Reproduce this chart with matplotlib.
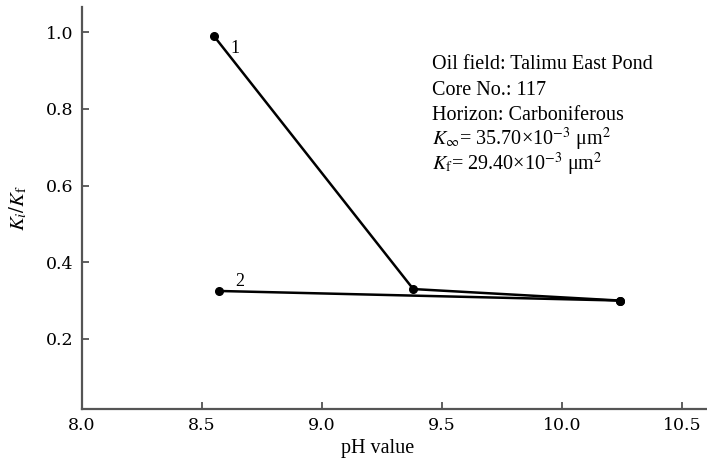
import matplotlib
matplotlib.use("Agg")
import matplotlib.pyplot as plt

# pH sensitivity data for two test runs
ph_run1 = [8.55, 9.38, 10.24]
ratio_run1 = [0.99, 0.33, 0.30]
ph_run2 = [8.57, 10.24]
ratio_run2 = [0.325, 0.30]

x_ticks = [8.0, 8.5, 9.0, 9.5, 10.0, 10.5]
y_ticks = [0.2, 0.4, 0.6, 0.8, 1.0]

info_lines = [
    "Oil field: Talimu East Pond",
    "Core No.: 117",
    "Horizon: Carboniferous",
    r"$K_\infty$= 35.70×10$^{-3}$ μm$^2$",
    r"$K_\mathrm{f}$= 29.40×10$^{-3}$ μm$^2$",
]

plt.rcParams["mathtext.fontset"] = "stix"

W, H = 707, 461
fig = plt.figure(figsize=(W / 100, H / 100), dpi=100)
ax = fig.add_axes([82 / W, 1 - 409 / H, (W - 82) / W, (409 - 7) / H])

line_kw = dict(color="black", lw=1.8, marker="o", ms=5.5, solid_joinstyle="round")
ax.plot(ph_run1, ratio_run1, **line_kw)
ax.plot(ph_run2, ratio_run2, **line_kw)

ax.annotate("1", (ph_run1[0], ratio_run1[0]), xytext=(21, -12),
            textcoords="offset pixels", fontsize=13, family="Liberation Serif",
            ha="center", va="center")
ax.annotate("2", (ph_run2[0], ratio_run2[0]), xytext=(21, 9),
            textcoords="offset pixels", fontsize=13, family="Liberation Serif",
            ha="center", va="center")

ax.set_xlim(8.0, 10.604)
ax.set_ylim(0.017, 1.066)
ax.set_xticks(x_ticks)
ax.set_yticks(y_ticks)
ax.set_xticklabels([f"{v:.1f}" for v in x_ticks], family="DejaVu Serif", fontsize=12.5)
ax.set_yticklabels([f"{v:.1f}" for v in y_ticks], family="DejaVu Serif", fontsize=12.5)
ax.tick_params(direction="in", length=5, width=1.2, color="#444444", pad=6)

for side in ("top", "right"):
    ax.spines[side].set_visible(False)
for side in ("left", "bottom"):
    ax.spines[side].set_color("#555555")
    ax.spines[side].set_linewidth(1.6)

ax.set_xlabel("pH value", family="Liberation Serif", fontsize=14.5)
ax.xaxis.set_label_coords((378 - 82) / (W - 82), -0.075)
ax.set_ylabel(r"$K_i/K_\mathrm{f}$", fontsize=15)
ax.yaxis.set_label_coords(-0.085, (409 - 208) / 402)

baselines = [69, 95, 120, 145, 170]
for txt, yb in zip(info_lines, baselines):
    ax.text((432 - 82) / (W - 82), (409 - yb) / 402, txt, transform=ax.transAxes,
            family="Liberation Serif", fontsize=14.5, ha="left", va="baseline")

fig.savefig("out.png", dpi=100)
